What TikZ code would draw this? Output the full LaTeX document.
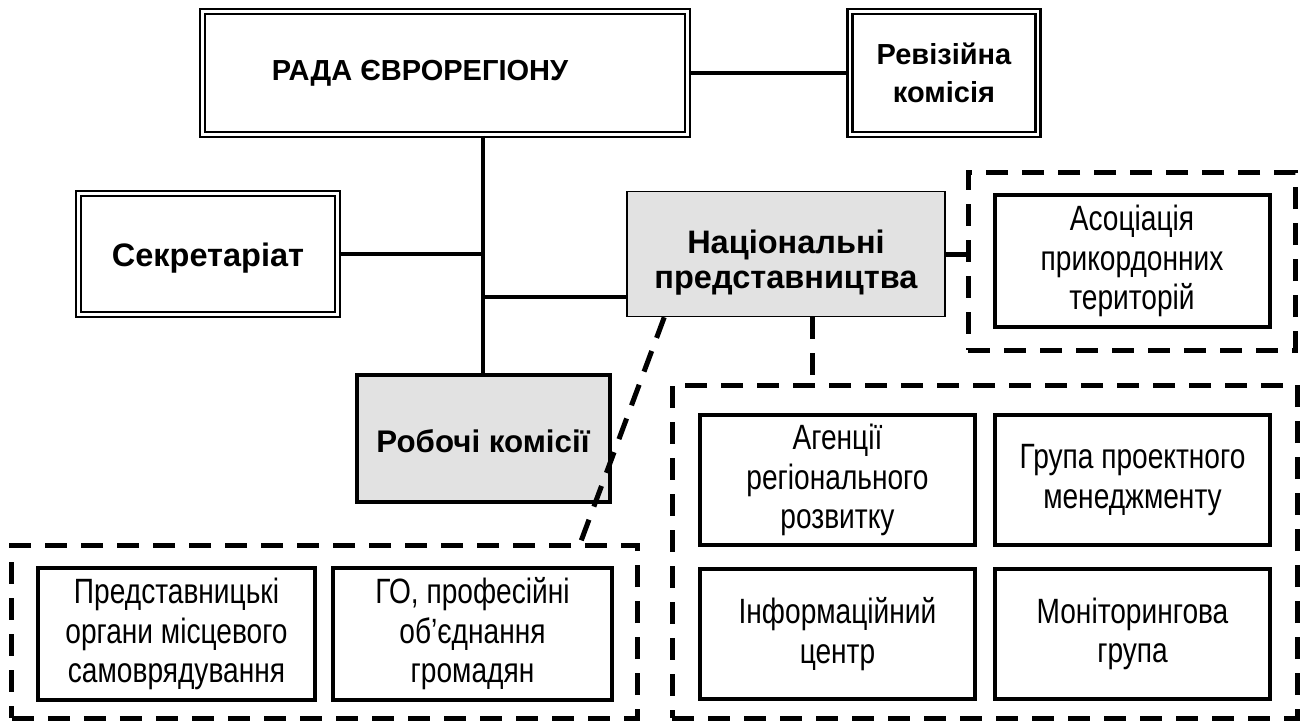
\documentclass[tikz,border=0pt]{standalone}
\usepackage{fontspec}
\setmainfont{Liberation Sans}
\newfontfamily\narrowfont[FakeStretch=0.8]{Liberation Sans}
\usepackage{tikz}
\usetikzlibrary{positioning, calc}
\definecolor{boxGray}{HTML}{E2E2E2}

\begin{document}
\begin{tikzpicture}[
  x=0.2mm, y=-0.2mm,
  mainbox/.style={draw, double, line width=0.5mm, double distance=0.45mm,
                  align=center, font=\fontsize{16.5}{21.5}\selectfont\bfseries,
                  inner sep=0pt},
  graybox/.style={draw, fill=boxGray, align=center,
                  font=\fontsize{18.5}{20}\selectfont\bfseries, inner sep=0pt},
  unitbox/.style={draw, line width=0.8mm, minimum width=55mm, minimum height=26mm,
                  align=center, inner sep=0pt,
                  font=\narrowfont\fontsize{20}{22.5}\selectfont},
  groupbox/.style={draw, line width=1mm, dash pattern=on 4.4mm off 2.8mm, inner sep=0pt},
  link/.style={line width=0.8mm},
  dashlink/.style={line width=1mm, dash pattern=on 4.4mm off 2.8mm},
]
  \useasboundingbox (0,0) rectangle (1303,722);

  % top level
  \node[mainbox, minimum width=97mm, minimum height=24.6mm] (rada) at (445,73)
    {РАДА ЄВРОРЕГІОНУ\hspace*{10mm}};
  \node[mainbox, minimum width=37.6mm, minimum height=24.6mm] (reviz) at (944,73)
    {Ревізійна\\комісія};
  \node[mainbox, font=\fontsize{18.5}{21.5}\selectfont\bfseries,
        minimum width=51.8mm, minimum height=24.2mm, text height=6.5mm] (sekr) at (208,254)
    {Секретаріат};
  \node[graybox, line width=0.3mm, minimum width=63.6mm, minimum height=25mm] (nats) at (786,254)
    {\rule{0pt}{8mm}Національні\\представництва};
  \node[graybox, font=\fontsize{17.8}{20}\selectfont\bfseries, text height=6mm,
        line width=0.8mm, minimum width=50.6mm, minimum height=25.4mm] (robochi) at (483,438)
    {Робочі комісії};

  % groups
  \node[groupbox, minimum width=65.4mm, minimum height=35.6mm] (asocgrp) at (1131.5,261) {};
  \node[unitbox, minimum height=26.4mm] (asoc) at (1132,261)
    {Асоціація\\прикордонних\\територій};

  \node[groupbox, minimum width=125mm, minimum height=66.6mm] (rightgrp) at (984.5,551.5) {};
  \node[unitbox] (agenc) at (837.5,480) {Агенції\\регіонального\\розвитку};
  \node[unitbox] (hrupa) at (1132.5,480) {Група проектного\\менеджменту};
  \node[unitbox] (inform) at (837.5,634) {Інформаційний\\центр};
  \node[unitbox] (monit) at (1132.5,634) {Моніторингова\\група};

  \node[groupbox, minimum width=125mm, minimum height=34.6mm] (leftgrp) at (324.5,631.5) {};
  \node[unitbox, minimum width=55.4mm, minimum height=26.4mm] (predst) at (176.5,634)
    {Представницькі\\органи місцевого\\самоврядування};
  \node[unitbox, minimum width=55.8mm, minimum height=26.4mm] (ho) at (472.5,634)
    {ГО, професійні\\об’єднання\\громадян};

  % solid links
  \draw[link] (rada.east) -- (reviz.west);
  \draw[link] (robochi.north |- rada.south) -- (robochi.north);
  \draw[link] (sekr.east) -- (sekr.east -| robochi.north);
  \coordinate (natsin) at ($(nats.south west)+(0,4mm)$);
  \draw[link] (natsin -| robochi.north) -- (natsin);

  % dashed links
  \draw[dashlink] (nats.east) -- (nats.east -| asocgrp.west);
  \coordinate (natsdown) at ($(nats.south)+(5.2mm,0)$);
  \draw[dashlink] (natsdown) -- (natsdown |- rightgrp.north);
  \coordinate (natsdiag) at ($(nats.south west)+(7.6mm,0)$);
  \coordinate (leftin) at ($(leftgrp.north east)+(-11.8mm,0)$);
  \draw[dashlink] (natsdiag) -- (leftin);
\end{tikzpicture}
\end{document}
